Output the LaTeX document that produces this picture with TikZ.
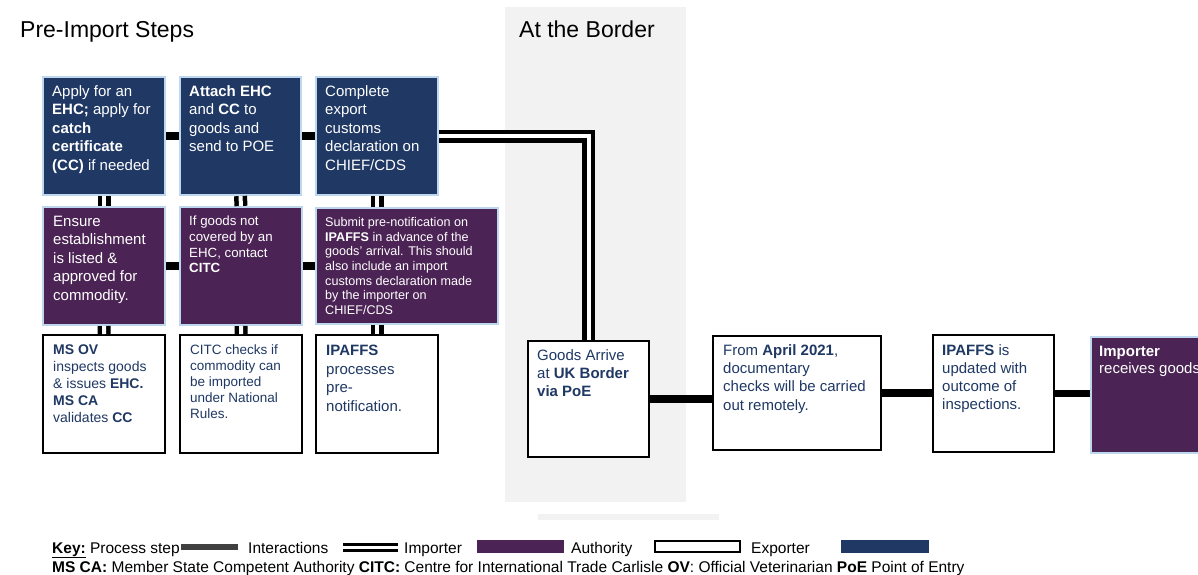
\documentclass[tikz,border=0pt]{standalone}
\usepackage{fontspec}
\setmainfont{Liberation Sans}
\usepackage{tikz}
\definecolor{exportnavy}{HTML}{1F3864}
\definecolor{authpurple}{HTML}{4B2354}
\definecolor{edgeblue}{HTML}{BDD7EE}
\definecolor{panelgrey}{HTML}{F2F2F2}
\definecolor{keygrey}{HTML}{404040}
\newcommand{\bigtxt}{\fontsize{15}{18.4}\selectfont}

\begin{document}
\begin{tikzpicture}[x=1pt, y=-1pt,
    navystep/.style={draw=edgeblue, line width=2pt, fill=exportnavy, anchor=north west, inner sep=0pt},
    purplestep/.style={draw=edgeblue, line width=2pt, fill=authpurple, anchor=north west, inner sep=0pt},
    whitestep/.style={draw=black, line width=2.2pt, fill=white, anchor=north west, inner sep=0pt},
    boxtext/.style={anchor=north west, align=left, inner xsep=10pt, inner ysep=9.5pt, font=\bigtxt},
    processline/.style={line width=7.5pt},
    interline/.style={draw=black, double=white, line width=4.5pt, double distance=4pt},
    heading/.style={anchor=base west, inner sep=0pt, font=\fontsize{23}{27}\selectfont},
    keytext/.style={anchor=base west, inner sep=0pt, font=\fontsize{15.5}{18}\selectfont}]
    \clip (0,0) rectangle (1198,574);
    % Border panel
    \fill[panelgrey] (505,7) rectangle (686,502);
    \fill[panelgrey] (538,514) rectangle (719,520);
    % Headings
    \node[heading] (preimport) at (20,37) {Pre-Import Steps};
    \node[heading] (border) at (519,37) {At the Border};
    % Row 1: exporter steps
    \node[navystep, minimum width=122, minimum height=118] (apply) at (42,76) {};
    \node[navystep, minimum width=121, minimum height=118] (attach) at (179,76) {};
    \node[navystep, minimum width=122, minimum height=118] (export) at (315,76) {};
    \node[boxtext, text=white] (applyt) at (apply.north west)
         {Apply for an\\ \textbf{EHC;} apply for\\ \textbf{catch}\\ \textbf{certificate}\\ \textbf{(CC)} if needed};
    \node[boxtext, text=white] (attacht) at (attach.north west)
         {\textbf{Attach EHC}\\ and \textbf{CC} to\\ goods and\\ send to POE};
    \node[boxtext, text=white] (exportt) at (export.north west)
         {Complete\\ export\\ customs\\ declaration on\\ CHIEF/CDS};
    % Row 2: authority / importer steps
    \node[purplestep, minimum width=122, minimum height=118] (listed) at (42,206) {};
    \node[purplestep, minimum width=122, minimum height=118] (citc) at (179,206) {};
    \node[purplestep, minimum width=182, minimum height=116] (prenote) at (315,207) {};
    \node[boxtext, text=white, inner xsep=11pt, inner ysep=10pt] (listedt) at (listed.north west)
         {Ensure\\ establishment\\ is listed \&\\ approved for\\ commodity.};
    \node[boxtext, text=white, inner ysep=10pt, font=\fontsize{13.3}{15.7}\selectfont] (citct) at (citc.north west)
         {If goods not\\ covered by an\\ EHC, contact\\ \textbf{CITC}};
    \node[boxtext, text=white, inner ysep=10pt, font=\fontsize{12.6}{14.7}\selectfont] (prenotet) at (prenote.north west)
         {Submit pre-notification on\\ \textbf{IPAFFS} in advance of the\\ goods' arrival. This should\\ also include an import\\ customs declaration made\\ by the importer on\\ CHIEF/CDS};
    % Row 3: checks
    \node[whitestep, minimum width=122, minimum height=118] (msov) at (42,334) {};
    \node[whitestep, minimum width=122, minimum height=118] (rules) at (179,334) {};
    \node[whitestep, minimum width=122, minimum height=118] (process) at (315,334) {};
    \node[boxtext, text=exportnavy, inner xsep=11pt, inner ysep=11pt, font=\fontsize{14}{16.9}\selectfont] (msovt) at (msov.north west)
         {\textbf{MS OV}\\ inspects goods\\ \& issues \textbf{EHC.}\\ \textbf{MS CA}\\ validates \textbf{CC}};
    \node[boxtext, text=exportnavy, inner xsep=11pt, inner ysep=10.5pt, font=\fontsize{13.5}{16}\selectfont] (rulest) at (rules.north west)
         {CITC checks if\\ commodity can\\ be imported\\ under National\\ Rules.};
    \node[boxtext, text=exportnavy, inner xsep=11pt, inner ysep=11pt, font=\fontsize{15}{18.6}\selectfont] (processt) at (process.north west)
         {\textbf{IPAFFS}\\ processes\\ pre-\\ notification.};
    % At the border and after
    \node[whitestep, minimum width=121, minimum height=116] (arrive) at (527,340) {};
    \node[whitestep, minimum width=168, minimum height=114] (remote) at (712,335) {};
    \node[whitestep, minimum width=121, minimum height=117] (update) at (932,334) {};
    \node[purplestep, minimum width=130, minimum height=116] (receive) at (1090,336) {};
    \node[boxtext, text=exportnavy, inner ysep=9pt, font=\fontsize{15}{18}\selectfont] (arrivet) at (arrive.north west)
         {Goods Arrive\\ at \textbf{UK Border}\\ \textbf{via PoE}};
    \node[boxtext, text=exportnavy, inner xsep=11pt, font=\fontsize{15}{18.2}\selectfont] (remotet) at (remote.north west)
         {From \textbf{April 2021},\\ documentary\\ checks will be carried\\ out remotely.};
    \node[boxtext, text=exportnavy, inner ysep=10pt, font=\fontsize{15}{18.1}\selectfont] (updatet) at (update.north west)
         {\textbf{IPAFFS} is\\ updated with\\ outcome of\\ inspections.};
    \node[boxtext, text=white, inner xsep=9pt, inner ysep=10pt, font=\fontsize{15}{17}\selectfont] (receivet) at (receive.north west)
         {\textbf{Importer}\\ receives goods};
    % Process steps
    \draw[processline] (apply.east) -- (attach.west);
    \draw[processline] (attach.east) -- (export.west);
    \draw[processline] (listed.east) -- (citc.west);
    \draw[processline] (citc.east) -- (prenote.west);
    \draw[processline] (arrive.east) -- (arrive.east -| remote.west);
    \draw[processline] (remote.east) -- (remote.east -| update.west);
    \draw[processline] (update.east) -- (update.east -| receive.west);
    % Interactions
    \draw[interline] (apply.south) -- (listed.north);
    \draw[interline] (listed.south) -- (msov.north);
    \draw[interline] (attach.south) -- (citc.north);
    \draw[interline] (citc.south) -- (rules.north);
    \draw[interline] (export.south) -- (export.south |- prenote.north);
    \draw[interline] (process.north |- prenote.south) -- (process.north);
    \draw[interline] (export.east) -| (arrive.north);
    % Key
    \node[keytext] (keyhead) at (52,553) {\underline{\textbf{Key:}} Process step};
    \fill[keygrey] (181,544) rectangle (238,550);
    \node[keytext] (keyinter) at (248,553) {Interactions};
    \draw[draw=black, double=white, line width=3pt, double distance=3pt] (343,547) -- (398,547);
    \node[keytext] (keyimport) at (404,553) {Importer};
    \fill[authpurple] (477,540) rectangle (564,553);
    \node[keytext] (keyauth) at (571,553) {Authority};
    \draw[line width=2pt] (655,541) rectangle (740,552);
    \node[keytext] (keyexport) at (751,553) {Exporter};
    \fill[exportnavy] (841,540) rectangle (929,553);
    \node[keytext] (keyabbrev) at (52,572)
         {\textbf{MS CA:} Member State Competent Authority \textbf{CITC:} Centre for International Trade Carlisle \textbf{OV}: Official Veterinarian \textbf{PoE} Point of Entry};
\end{tikzpicture}
\end{document}
